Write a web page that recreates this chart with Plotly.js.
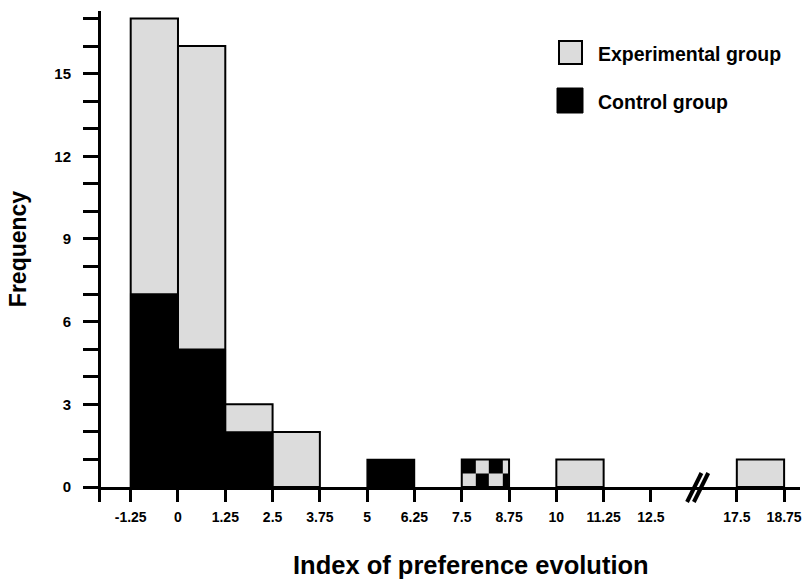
<!DOCTYPE html>
<html>
<head>
<meta charset="utf-8">
<script src="https://cdn.plot.ly/plotly-3.0.1.min.js"></script>
<style>html,body{margin:0;padding:0;background:#fff;}#chart{width:802px;height:580px;}</style>
</head>
<body>
<div id="chart"></div>
<script>
// ---- data ----
var binStarts = [-1.25, 0, 1.25, 2.5, 3.75, 5, 6.25, 7.5, 8.75, 10, 11.25, 17.5];
var experimental = [17, 16, 3, 2, 0, 0, 0, 1, 0, 1, 0, 1];
var control = [7, 5, 2, 0, 0, 1, 0, 1, 0, 0, 0, 0];
var seriesNames = ['Experimental group', 'Control group'];
var tickValues = [-1.25, 0, 1.25, 2.5, 3.75, 5, 6.25, 7.5, 8.75, 10, 11.25, 12.5, 17.5, 18.75];
var tickLabels = ['-1.25', '0', '1.25', '2.5', '3.75', '5', '6.25', '7.5', '8.75', '10', '11.25', '12.5', '17.5', '18.75'];
var yTickValues = [0,1,2,3,4,5,6,7,8,9,10,11,12,13,14,15,16,17];
var xTitle = 'Index of preference evolution';
var yTitle = 'Frequency';

// ---- layout constants ----
var binWidth = 1.25;
var breakAt = 17.5;      // values >= breakAt are shifted left (axis break)
var breakShift = 2.73;
function disp(v) { return v >= breakAt ? v - breakShift : v; }

var W = 802, H = 580;
var M = {l: 101, r: 2, t: 11, b: 93};
var plotW = W - M.l - M.r, plotH = H - M.t - M.b;
function pxX(px) { return (px - M.l) / plotW; }
function pxY(py) { return (H - M.b - py) / plotH; }

var grey = '#dcdcdc';
var transparent = 'rgba(0,0,0,0)';

// bar centres
var centers = binStarts.map(function (s) { return disp(s) + binWidth / 2; });
var overlap = binStarts.map(function (s, i) { return experimental[i] > 0 && control[i] > 0 && experimental[i] === control[i]; });

var expTrace = {
  type: 'bar', name: seriesNames[0], x: centers, y: experimental,
  width: binWidth,
  marker: {
    color: overlap.map(function (o) { return o ? transparent : grey; }),
    line: {color: '#000', width: experimental.map(function (v) { return v > 0 ? 2 : 0; })}
  },
  showlegend: false, hoverinfo: 'x+y+name'
};
var ctlTrace = {
  type: 'bar', name: seriesNames[1], x: centers, y: control,
  width: binWidth,
  marker: {
    color: overlap.map(function (o) { return o ? transparent : '#000'; }),
    line: {color: '#000', width: control.map(function (v, i) { return (v > 0 && !overlap[i]) ? 1.5 : 0; })}
  },
  showlegend: false, hoverinfo: 'x+y+name'
};

// checkerboard cells for bins where both groups are present
var checkerTraces = [];
binStarts.forEach(function (s, i) {
  if (!overlap[i]) return;
  var x0 = disp(s);
  var fr = [0, 2/7, 4/7, 6/7, 1];
  var xe = fr.map(function (f) { return x0 + binWidth * f; });
  var h = control[i];
  var ye = [0, h / 2, h];
  checkerTraces.push({
    type: 'heatmap', x: xe, y: ye,
    z: [[0, 1, 0, 1], [1, 0, 1, 0]],
    colorscale: [[0, grey], [1, '#000']], zmin: 0, zmax: 1,
    showscale: false, hoverinfo: 'skip'
  });
});

// axis break slashes
var brkC = (disp(12.5) + disp(breakAt)) / 2 + 0.1;
var slashDx = 0.19;
var shapes = [];
[-0.09, 0.09].forEach(function (o) {
  shapes.push({type: 'line', xref: 'x', yref: 'paper',
    x0: brkC + o - slashDx, x1: brkC + o + slashDx,
    y0: pxY(502), y1: pxY(473),
    line: {color: '#000', width: 4}});
});
// y axis line extension below the x axis
shapes.push({type: 'line', xref: 'paper', yref: 'paper', x0: pxX(99.5), x1: pxX(99.5),
  y0: pxY(487), y1: pxY(502), line: {color: '#000', width: 3}});
// legend boxes
shapes.push({type: 'rect', xref: 'paper', yref: 'paper', x0: pxX(559), x1: pxX(582), y0: pxY(64), y1: pxY(41),
  fillcolor: grey, line: {color: '#000', width: 2}});
shapes.push({type: 'rect', xref: 'paper', yref: 'paper', x0: pxX(557), x1: pxX(583), y0: pxY(113), y1: pxY(88),
  fillcolor: '#000', line: {color: '#000', width: 1}});

var fontFam = 'Liberation Sans, Arial, sans-serif';
var annotations = [
  {xref: 'paper', yref: 'paper', x: pxX(596), y: pxY(54), xanchor: 'left', yanchor: 'middle',
   text: seriesNames[0], showarrow: false, font: {family: fontFam, size: 19.5, weight: 'bold', color: '#000'}},
  {xref: 'paper', yref: 'paper', x: pxX(596), y: pxY(102), xanchor: 'left', yanchor: 'middle',
   text: seriesNames[1], showarrow: false, font: {family: fontFam, size: 19.5, weight: 'bold', color: '#000'}},
  {xref: 'paper', yref: 'paper', x: pxX(471), y: pxY(565), xanchor: 'center', yanchor: 'middle',
   text: xTitle, showarrow: false, font: {family: fontFam, size: 25.5, weight: 'bold', color: '#000'}}
];

var layout = {
  width: W, height: H, margin: M,
  paper_bgcolor: '#fff', plot_bgcolor: '#fff',
  barmode: 'overlay', bargap: 0,
  showlegend: false,
  xaxis: {
    range: [-2.035, 16.44], showgrid: false, zeroline: false,
    showline: true, linecolor: '#000', linewidth: 3,
    ticks: 'outside', ticklen: 12, tickwidth: 3, tickcolor: '#000',
    tickvals: tickValues.map(disp), ticktext: tickLabels,
    tickfont: {family: fontFam, size: 14, weight: 'bold', color: '#000'},
    ticklabelstandoff: 3
  },
  yaxis: {
    range: [0, 17.27], showgrid: false, zeroline: false,
    showline: true, linecolor: '#000', linewidth: 3,
    ticks: 'outside', ticklen: 15, tickwidth: 3, tickcolor: '#000',
    tickvals: yTickValues,
    ticktext: yTickValues.map(function (v) { return v % 3 === 0 ? String(v) : ''; }),
    tickfont: {family: fontFam, size: 15, weight: 'bold', color: '#000'},
    ticklabelstandoff: 9,
    title: {text: yTitle, font: {family: fontFam, size: 23, weight: 'bold', color: '#000'}, standoff: 22}
  },
  shapes: shapes,
  annotations: annotations
};

Plotly.newPlot('chart', checkerTraces.concat([expTrace, ctlTrace]), layout, {displayModeBar: false, staticPlot: true});
</script>
</body>
</html>
